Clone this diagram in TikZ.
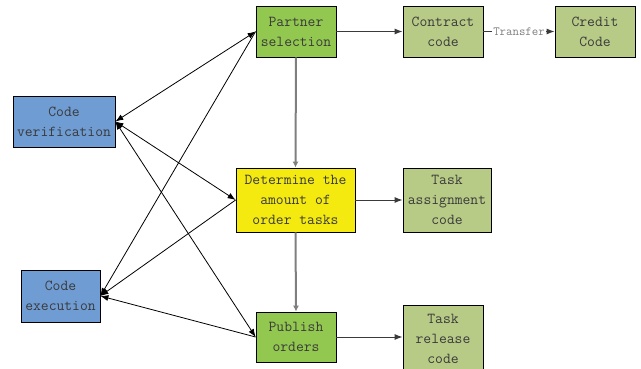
\documentclass[tikz,border=0pt]{standalone}
\usepackage{fontspec}
\usetikzlibrary{arrows.meta}
\definecolor{txtgray}{HTML}{3A3A3A}
\definecolor{lgray}{HTML}{7F7F7F}
\definecolor{boxgreen}{HTML}{92C850}
\definecolor{boxolive}{HTML}{B7CB87}
\definecolor{boxblue}{HTML}{6F9CD3}
\definecolor{boxyellow}{HTML}{F4EA10}
\tikzset{
  box/.style={draw=black, line width=0.8pt, align=center, text=txtgray,
    font=\ttfamily\fontsize{15.2}{20}\selectfont, inner sep=0pt},
  conn/.style={line width=0.8pt, draw=black, -{Latex[length=8pt,width=6pt]}},
  dconn/.style={line width=0.8pt, draw=black, {Latex[length=8pt,width=6pt]}-{Latex[length=8pt,width=6pt]}},
  vconn/.style={line width=2pt, draw=lgray, -{Latex[length=6pt,width=6pt]}},
  hconn/.style={line width=1pt, draw=txtgray, -{Latex[length=8pt,width=6pt]}},
}
\begin{document}
\begin{tikzpicture}[x=1pt,y=-1pt]
\useasboundingbox (0,0) rectangle (641,369);
\node[box, fill=boxgreen, minimum width=80pt, minimum height=51pt] (partner) at (296,31.5) {Partner\\selection};
\node[box, fill=boxolive, minimum width=80pt, minimum height=51pt] (contract) at (443,31.5) {Contract\\code};
\node[box, fill=boxolive, minimum width=80pt, minimum height=51pt] (credit) at (595,31.5) {Credit\\Code};
\node[box, fill=boxblue, minimum width=102pt, minimum height=51pt] (verif) at (64,121.5) {Code\\verification};
\node[box, fill=boxyellow, minimum width=119pt, minimum height=64pt] (determine) at (295.5,200) {Determine the\\amount of\\order tasks};
\node[box, fill=boxolive, minimum width=88pt, minimum height=64pt] (taskassign) at (447,200) {Task\\assignment\\code};
\node[box, fill=boxblue, minimum width=79pt, minimum height=52pt] (exec) at (60.5,296) {Code\\execution};
\node[box, fill=boxgreen, minimum width=80pt, minimum height=50pt] (publish) at (296,337) {Publish\\orders};
\node[box, fill=boxolive, minimum width=80pt, minimum height=66pt] (taskrelease) at (443,338.5) {Task\\release\\code};

\draw[hconn] (partner.east) -- (contract.west);
\draw[hconn] (contract.east) -- node[fill=white, inner sep=1pt, text=lgray, font=\ttfamily\fontsize{12.5}{12}\selectfont] (transfer) {Transfer} (credit.west);
\draw[vconn] (partner.south) -- (determine.north);
\draw[vconn] (determine.south) -- (publish.north);
\draw[hconn] (determine.east) -- (determine.east -| taskassign.west);
\draw[hconn] (publish.east) -- (publish.east -| taskrelease.west);

\draw[dconn] (verif.east) -- (partner.west);
\draw[dconn] (verif.east) -- (determine.west);
\draw[dconn] (verif.east) -- (publish.west);
\draw[conn] (partner.west) -- (exec.east);
\draw[conn] (determine.west) -- (exec.east);
\draw[conn] (publish.west) -- (exec.east);
\end{tikzpicture}
\end{document}
